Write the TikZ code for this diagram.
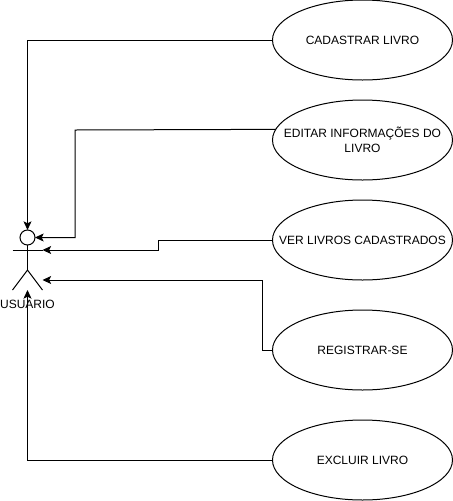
\documentclass[tikz,border=0pt]{standalone}
\usepackage{fontspec}
\setmainfont{Liberation Sans}
\usetikzlibrary{shapes.geometric,arrows.meta}
\tikzset{
	caso/.style={draw, ellipse, minimum width=135pt, minimum height=60pt, inner sep=0pt, outer sep=0pt},
	textocaso/.style={align=center, inner sep=0pt, font=\fontsize{9}{11.5}\selectfont},
	linha/.style={line width=0.75pt},
	seta/.style={line width=0.75pt, -{Stealth[length=6.5pt,width=6pt,inset=1.5pt]}}
}
\begin{document}
\begin{tikzpicture}[x=0.75pt,y=-0.75pt,line width=0.75pt]
	\useasboundingbox (0,0) rectangle (453,501);
	% Casos de uso
		\node[caso, label={[textocaso]center:CADASTRAR LIVRO}] (cadastrar) at (362.5,40) {};
		\node[caso, label={[textocaso]center:EDITAR INFORMAÇÕES DO\\LIVRO}] (editar) at (362.5,140) {};
		\node[caso, label={[textocaso]center:VER LIVROS CADASTRADOS}] (ver) at (362.5,240) {};
		\node[caso, label={[textocaso]center:REGISTRAR-SE}] (registrar) at (362.5,350) {};
		\node[caso, label={[textocaso]center:EXCLUIR LIVRO}] (excluir) at (362.5,460) {};

	% Ator
		\node[draw, circle, minimum size=11.25pt, inner sep=0pt, outer sep=0pt] (cabeca) at (27.5,237.5) {};
		\coordinate (ombroE) at (12.5,250);
		\coordinate (ombroD) at (42.5,250);
		\coordinate (quadril) at (27.5,270);
		\coordinate (peE) at (12.5,290);
		\coordinate (peD) at (42.5,290);
		\coordinate (pes) at (27.5,290);
		\coordinate (bracoD) at (42.5,280);
		\draw[linha] (cabeca.south) -- (quadril);
		\draw[linha] (ombroE) -- (ombroD);
		\draw[linha] (peE) -- (quadril) -- (peD);

	% Conexoes
		\draw[seta] (cadastrar.west) -- (27.5,40) -- (cabeca.north);
		\draw[seta] (editar.173.45) -- (75,130) -- (75,237.5) -- (cabeca.east);
		\draw[seta] (ver.west) -- (158,240) -- (158,250) -- (ombroD);
		\draw[seta] (registrar.west) -- (262.5,350) -- (262.5,280) -- (bracoD);
		\draw[seta] (excluir.west) -- (27.5,460) -- (pes);

	% Nome
		\node[font=\fontsize{9}{11}\selectfont, inner sep=0pt] (usuario) at (27.5,304) {USUARIO};
\end{tikzpicture}
\end{document}
